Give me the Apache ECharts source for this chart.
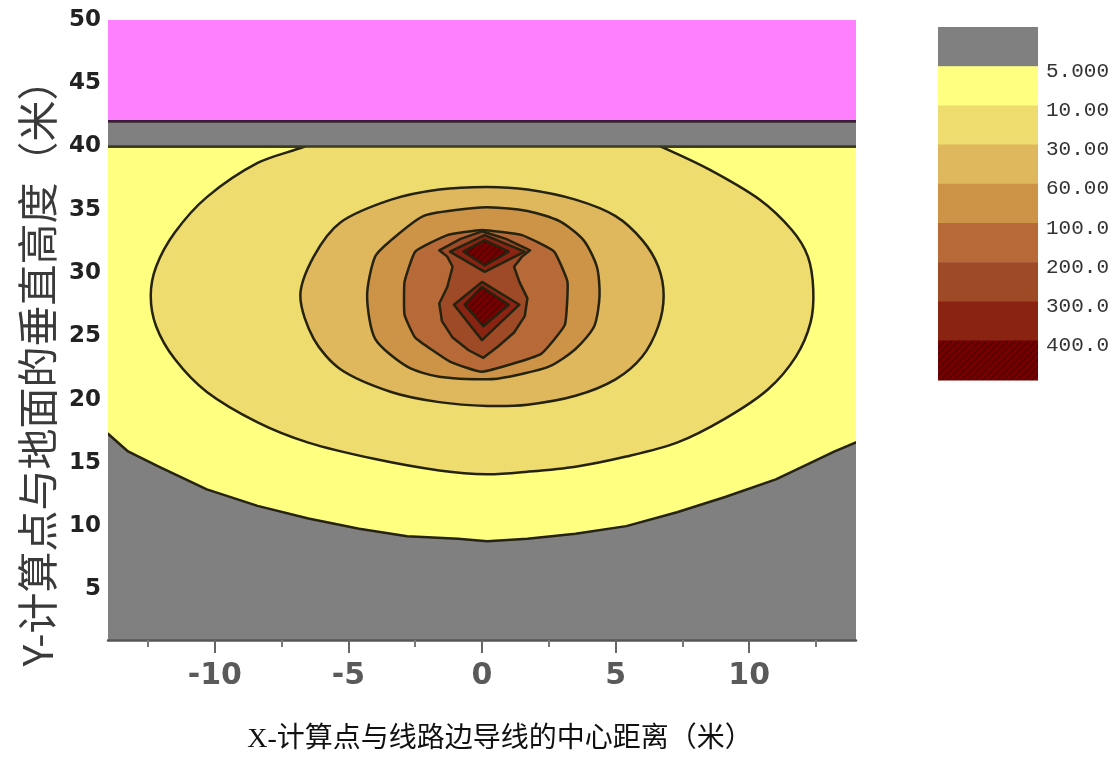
<!DOCTYPE html>
<html><head><meta charset="utf-8">
<script src="https://cdn.jsdelivr.net/npm/echarts@6/dist/echarts.min.js"></script>
<style>html,body{margin:0;padding:0;background:#fff}#c{width:1120px;height:760px}</style>
</head><body><div id="c"></div>
<script>
// ---- axis ticks / labels ----
const xMajorTicks = [-10,-5,0,5,10];
const xMinorTicks = [-12.5,-7.5,-2.5,2.5,7.5,12.5];
const xLabelValues = [-10,-5,0,5,10];
const yLabelValues = [5,10,15,20,25,30,35,40,45,50];

// ---- contour level legend ----
const legendLabels = ['5.000','10.00','30.00','60.00','100.0','200.0','300.0','400.0'];
const levelColors = ['#808080','#ffff80','#eedc6e','#dfb75c','#cd9448','#b76a38','#9f4a27','#8b2313','#730000'];

// ---- regions (x: m, y: m) ----
const topBandBottom = 40;   // gray strip lower edge
const topBandTop = 42;      // magenta region lower edge
const contour5 = [[-14.0,17.3],[-13.25,15.9],[-12.1,14.7],[-10.3,12.9],[-8.4,11.6],[-6.5,10.6],[-4.6,9.8],[-2.8,9.2],[-0.9,9.0],[0.2,8.8],[1.7,9.0],[3.5,9.4],[5.4,10.0],[7.3,11.1],[9.1,12.3],[11.0,13.7],[12.2,14.9],[13.2,15.9],[14.1,16.7]];
const contour10 = [[-5.0,41.5],[-6.64,40],[-8.4,38.7],[-10.3,36.0],[-11.5,33.2],[-12.2,30.5],[-12.4,28.2],[-12.2,25.8],[-11.5,23.2],[-10.3,20.6],[-8.4,18.2],[-6.5,16.6],[-4.0,15.3],[-1.6,14.4],[0.2,14.1],[1.7,14.3],[3.5,14.7],[5.4,15.5],[7.3,16.6],[9.1,18.5],[10.7,20.8],[11.75,23.4],[12.3,26.1],[12.4,28.7],[12.2,31.3],[11.6,33.4],[10.4,35.8],[8.5,38.2],[6.7,40],[5.0,41.5],[0,42.5]];
const contour30 = [[0.2,36.8],[1.7,36.6],[3.5,35.8],[5.0,34.5],[6.0,32.6],[6.6,30.5],[6.8,28.2],[6.6,25.8],[6.0,23.4],[5.0,21.6],[3.5,20.3],[1.7,19.6],[0.2,19.5],[-1.6,19.8],[-3.4,20.6],[-5.3,22.4],[-6.3,24.8],[-6.8,28.2],[-6.3,31.3],[-5.3,34.0],[-3.4,35.8],[-1.6,36.6]];
const contour60 = [[0.2,35.2],[1.7,34.9],[2.9,34.1],[3.8,32.6],[4.3,30.5],[4.4,28.2],[4.2,25.8],[3.5,24.0],[2.5,22.6],[1.0,21.8],[0.2,21.6],[-1.6,21.8],[-2.8,22.6],[-4.0,24.8],[-4.3,28.2],[-4.0,31.3],[-3.4,32.6],[-2.2,34.5],[-0.9,35.0]];
const contour100 = [[0,33.4],[1.5,33.0],[2.7,31.7],[3.2,29.3],[3.1,25.9],[2.2,23.6],[0,22.2],[-1.2,23.0],[-2.5,24.9],[-2.9,26.7],[-2.9,29.3],[-2.5,31.7],[-1.3,33.0]];
const contour200 = [[0,33.3],[0.9,32.7],[1.8,31.8],[1.5,31.3],[1.2,30.5],[1.4,29.3],[1.7,28.0],[1.6,26.6],[1.2,25.3],[0.6,24.2],[0.05,23.3],[-0.5,23.9],[-1.1,24.9],[-1.5,26.2],[-1.6,27.6],[-1.3,28.9],[-1.1,30.5],[-1.3,31.3],[-1.6,31.8],[-0.8,32.7]];
const contour300Upper = [[0.1,33.0],[1.6,31.7],[0.1,30.1],[-1.2,31.7]];
const contour300Lower = [[0,29.3],[1.4,27.5],[0,24.7],[-1.05,27.5]];
const contour400Upper = [[0.1,32.6],[1.0,31.7],[0.1,30.6],[-0.7,31.7]];
const contour400Lower = [[0,28.9],[1.0,27.5],[0.05,25.8],[-0.65,27.5]];

const XMIN = -14, XMAX = 14, YMIN = 1, YMAX = 50;

function hatchPattern(){
  const c = document.createElement('canvas'); c.width = 7; c.height = 7;
  const g = c.getContext('2d');
  g.fillStyle = '#760000'; g.fillRect(0,0,7,7);
  g.strokeStyle = '#4e0000'; g.lineWidth = 1.4;
  g.beginPath(); g.moveTo(-1,8); g.lineTo(8,-1); g.stroke();
  return {image: c, repeat: 'repeat'};
}
const hatch = hatchPattern();
const lineColor = '#25230f';

// polygons drawn in order (extended beyond the plot where the region touches the frame)
const regions = [
  {pts: [[-15,topBandBottom],[-15,17.8]].concat(contour5, [[15,17.4],[15,topBandBottom]]), fill: levelColors[1], stroke: lineColor, smooth: 0},
  {pts: contour10, fill: levelColors[2], stroke: lineColor, smooth: 0.3},
  {pts: [[-15,topBandBottom],[15,topBandBottom],[15,topBandTop],[-15,topBandTop]], fill: levelColors[0], stroke: '#3a3a20', smooth: 0},
  {pts: contour30, fill: levelColors[3], stroke: lineColor, smooth: 0.3},
  {pts: contour60, fill: levelColors[4], stroke: lineColor, smooth: 0.25},
  {pts: contour100, fill: levelColors[5], stroke: lineColor, smooth: 0.12},
  {pts: contour200, fill: levelColors[6], stroke: lineColor, smooth: 0},
  {pts: contour300Upper, fill: levelColors[7], stroke: lineColor, smooth: 0},
  {pts: contour300Lower, fill: levelColors[7], stroke: lineColor, smooth: 0},
  {pts: contour400Upper, fill: hatch, stroke: lineColor, smooth: 0},
  {pts: contour400Lower, fill: hatch, stroke: lineColor, smooth: 0},
  {pts: [[-15,topBandTop],[15,topBandTop],[15,52],[-15,52]], fill: '#ff80ff', stroke: '#3c1e3c', smooth: 0}
];

const chart = echarts.init(document.getElementById('c'), null, {renderer: 'canvas'});

// legend + titles
const LX = 938, LY = 27, LW = 100, LH = 39.2;
const gfx = [];
levelColors.forEach((col, i) => {
  gfx.push({type:'rect', left: LX, top: LY + i*LH, shape:{width: LW, height: LH + 0.6},
    style:{fill: i === levelColors.length-1 ? hatch : col}, silent: true});
});
legendLabels.forEach((t, i) => {
  gfx.push({type:'text', x: 1046, y: LY + (i+1)*LH + 5,
    style:{text: t, font: '21px "Liberation Mono", monospace', fill: '#333', verticalAlign:'middle', align:'left'}});
});
gfx.push({type:'text', x: 37, y: 363, rotation: Math.PI/2,
  style:{text:'Y-计算点与地面的垂直高度（米）', font:'41px "Noto Sans CJK SC", sans-serif', fill:'#3a3a3a', align:'center', verticalAlign:'middle'}});
gfx.push({type:'text', x: 500, y: 740,
  style:{text:'X-计算点与线路边导线的中心距离（米）', font:'28px "Liberation Serif", "Noto Sans CJK SC", serif', fill:'#111', align:'center', verticalAlign:'middle'}});

const labelFont = '"DejaVu Sans", sans-serif';
chart.setOption({
  animation: false,
  backgroundColor: '#fff',
  grid: {left: 108, top: 20, right: 264, bottom: 120, show: true, backgroundColor: levelColors[0], borderWidth: 0},
  xAxis: [{type:'value', min: XMIN, max: XMAX, position: 'bottom',
    axisLine: {show: true, onZero: false, lineStyle: {color:'#555', width: 2.5}},
    axisTick: {show: true, customValues: xMajorTicks, length: 13, lineStyle:{color:'#666', width: 2}},
    axisLabel: {customValues: xLabelValues, margin: 21, color:'#5a5a5a', fontSize: 30, fontWeight:'bold', fontFamily: labelFont},
    splitLine: {show: false}},
   {type:'value', min: XMIN, max: XMAX, position: 'bottom', offset: 0,
    axisLine: {show: false},
    axisTick: {show: true, customValues: xMinorTicks, length: 7, lineStyle:{color:'#777', width: 2}},
    axisLabel: {show: false}, splitLine: {show: false}}],
  yAxis: {type:'value', min: YMIN, max: YMAX,
    axisLine: {show: false}, axisTick: {show: false},
    axisLabel: {customValues: yLabelValues, margin: 7, color:'#222', fontSize: 23, fontWeight:'bold', fontFamily: labelFont},
    splitLine: {show: false}},
  graphic: gfx,
  series: [{
    type: 'custom', clip: true, xAxisIndex: 0, yAxisIndex: 0,
    data: regions.map((r, i) => [0, 25, i]),
    renderItem: function(params, api){
      const r = regions[params.dataIndex];
      return {type:'polygon', shape:{points: r.pts.map(p => api.coord(p)), smooth: r.smooth},
        style:{fill: r.fill, stroke: r.stroke, lineWidth: 2.5, lineJoin:'round'}};
    }
  }]
});
</script></body></html>
